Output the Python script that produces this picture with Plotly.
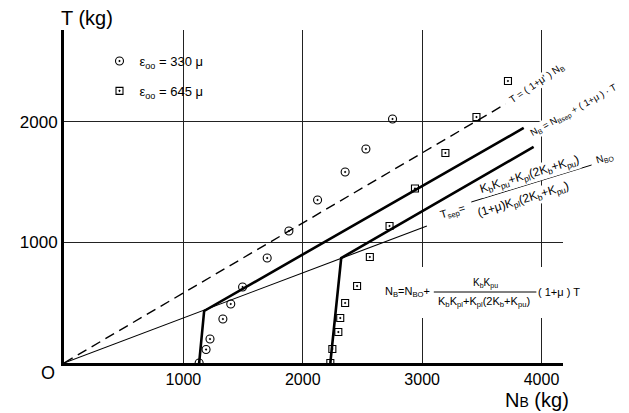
import plotly.graph_objects as go

# ---- data ----
circ_nb = [1132, 1190, 1223, 1331, 1397, 1496, 1702, 1884, 2124, 2355, 2529, 2752]
circ_t = [0, 112, 199, 365, 490, 631, 871, 1095, 1353, 1585, 1776, 2025]
sq_nb = [2231, 2248, 2298, 2314, 2355, 2455, 2562, 2727, 2940, 3195, 3455, 3719]
sq_t = [0, 116, 257, 373, 498, 639, 880, 1137, 1448, 1743, 2041, 2340]

dash_nb = [0, 3700]
dash_t = [0, 2150]
tsep_nb = [0, 3040]
tsep_t = [0, 1137]
thick1_nb = [1132, 1174, 3851]
thick1_t = [0, 432, 1950]
thick2_nb = [2231, 2322, 3934]
thick2_t = [0, 871, 1793]

x_ticks = [1000, 2000, 3000, 4000]
y_ticks = [1000, 2000]
x_labels = ["1000", "2000", "3000", "4000"]
y_labels = ["1000", "2000"]

FONT = "Liberation Sans Narrow, Liberation Sans, Arial, sans-serif"

# page body has an 8px margin; work in screen pixels and convert
OFF = 8
W, H = 629 - OFF, 413 - OFF
PLOT_L, PLOT_R, PLOT_T, PLOT_B = 57, 563, 30, 363  # screen px of plot area
L = PLOT_L - OFF
T = PLOT_T - OFF
R = W - (PLOT_R - OFF)
B = H - (PLOT_B - OFF)
PW, PH = PLOT_R - PLOT_L, PLOT_B - PLOT_T


def px(xp):
    return (xp - PLOT_L) / PW


def py(yp):
    return (PLOT_B - yp) / PH


fig = go.Figure()
fig.add_trace(go.Scatter(x=dash_nb, y=dash_t, mode="lines",
                         line=dict(color="black", width=1.4, dash="10px,6px"),
                         showlegend=False, hoverinfo="skip"))
fig.add_trace(go.Scatter(x=tsep_nb, y=tsep_t, mode="lines",
                         line=dict(color="black", width=1.1),
                         showlegend=False, hoverinfo="skip"))
fig.add_trace(go.Scatter(x=thick1_nb, y=thick1_t, mode="lines",
                         line=dict(color="black", width=2.6),
                         showlegend=False, hoverinfo="skip"))
fig.add_trace(go.Scatter(x=thick2_nb, y=thick2_t, mode="lines",
                         line=dict(color="black", width=2.6),
                         showlegend=False, hoverinfo="skip"))
fig.add_trace(go.Scatter(x=circ_nb, y=circ_t, mode="markers",
                         name="ε<sub>oo</sub> = 330 μ", legendgroup="a",
                         marker=dict(symbol="circle-open-dot", size=8,
                                     color="black", line=dict(width=1.1))))
fig.add_trace(go.Scatter(x=sq_nb, y=sq_t, mode="markers",
                         name="ε<sub>oo</sub> = 645 μ", legendgroup="b",
                         marker=dict(symbol="square-open-dot", size=7,
                                     color="black", line=dict(width=1.1))))

ann = []


def add(text, xp, yp, size=12, angle=0, bg=None, xanchor="center"):
    d = dict(text=text, x=px(xp), y=py(yp), xref="paper", yref="paper",
             showarrow=False, textangle=angle, xanchor=xanchor,
             yanchor="middle", borderpad=0,
             font=dict(family=FONT, size=size, color="black"))
    if bg:
        d["bgcolor"] = bg
    ann.append(d)


add("T (kg)", 80, 18, size=20)
add("O", 41, 373, size=18)
add("N<span style='font-size:14px'>B</span> (kg)", 537, 400, size=20)

add("T = ( 1+μ' ) N<sub>B</sub>", 537, 83, size=10, angle=-34, bg="white")
add("N<sub>B</sub> = N<sub>Bsep</sub> + ( 1+μ ) · T", 574, 110, size=9.5, angle=-29, bg="white")

# Tsep formula (rotated)
add("T<sub>sep</sub>=", 451, 212, size=11, angle=-17, bg="white")
add("K<sub>b</sub>K<sub>pu</sub>+K<sub>pl</sub>(2K<sub>b</sub>+K<sub>pu</sub>)", 529, 175, size=12, angle=-17, bg="white")
add("(1+μ)K<sub>pl</sub>(2K<sub>b</sub>+K<sub>pu</sub>)", 523, 200, size=12, angle=-17, bg="white")
add("N<sub>BO</sub>", 606, 158, size=10, angle=-17, bg="white")

# NB formula (horizontal)
add("N<sub>B</sub>=N<sub>BO</sub>+", 405, 292, size=11)
add("K<sub>b</sub>K<sub>pu</sub>", 484, 283, size=10)
add("K<sub>b</sub>K<sub>pl</sub>+K<sub>pl</sub>(2K<sub>b</sub>+K<sub>pu</sub>)", 483, 302, size=11)
add("( 1+μ ) T", 559, 292, size=11)

shapes = [
    # white background behind horizontal NB formula (breaks grid lines)
    dict(type="rect", xref="paper", yref="paper", x0=px(378), x1=px(586),
         y0=py(318), y1=py(267), fillcolor="white", line=dict(width=0),
         layer="above"),
    # fraction bars
    dict(type="line", xref="paper", yref="paper", x0=px(432), x1=px(536),
         y0=py(292), y1=py(292), line=dict(color="black", width=1),
         layer="above"),
    dict(type="line", xref="paper", yref="paper", x0=px(470), x1=px(592),
         y0=py(202), y1=py(165), line=dict(color="black", width=1),
         layer="above"),
]

fig.update_layout(
    width=W, height=H,
    margin=dict(l=L, r=R, t=T, b=B),
    paper_bgcolor="white", plot_bgcolor="white",
    font=dict(family=FONT, size=17, color="black"),
    showlegend=True,
    legend=dict(x=px(93), y=py(46), xanchor="left", yanchor="top",
                bgcolor="rgba(0,0,0,0)", font=dict(size=13, family=FONT),
                traceorder="grouped", tracegroupgap=10, itemwidth=30),
    xaxis=dict(range=[0, 4180], tickvals=x_ticks, ticktext=x_labels,
               showgrid=True, gridcolor="#222", gridwidth=1.1,
               showline=True, linecolor="black", linewidth=3,
               zeroline=False, ticks="", tickfont=dict(size=16)),
    yaxis=dict(range=[0, 2763], tickvals=y_ticks, ticktext=y_labels,
               showgrid=True, gridcolor="#222", gridwidth=1.1,
               showline=True, linecolor="black", linewidth=3,
               zeroline=False, ticks="", tickfont=dict(size=17)),
    annotations=ann,
    shapes=shapes,
)

fig.write_html("out.html")
